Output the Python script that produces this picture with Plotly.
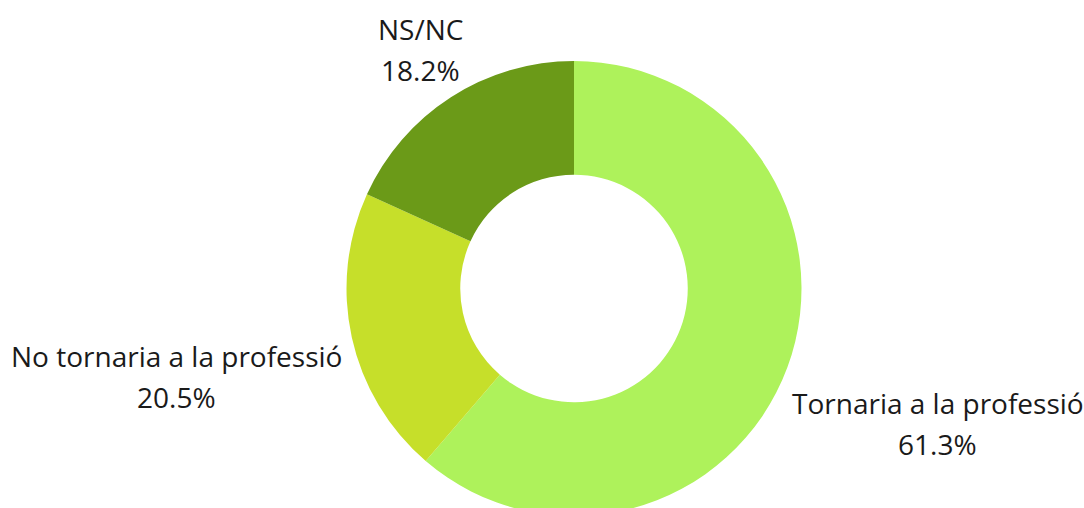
import math
import plotly.graph_objects as go

labels = ["Tornaria a la professió", "No tornaria a la professió", "NS/NC"]
values = [61.3, 20.5, 18.2]
colors = ["#AEF25B", "#C6DF2A", "#6B9A18"]

W, H = 1084, 516
ML, MR, MT, MB = 64, 0, 61, 0
FONT = "Open Sans"
FS = 28
LABEL_GAP = 14
LINE_GAP = 41

# approximate Open Sans advance widths (per 1000 em)
CW = {" ": 260, "a": 556, "b": 613, "c": 480, "d": 613, "e": 561, "f": 336, "i": 258,
      "l": 258, "n": 613, "o": 601, "p": 613, "r": 408, "s": 479, "t": 353, "ó": 601,
      "N": 748, "S": 549, "C": 631, "/": 371, ".": 266, "%": 823, "T": 556}


def text_w(s):
    return sum(CW.get(ch, 572) for ch in s) * FS / 1000.0


fig = go.Figure(go.Pie(
    labels=labels,
    values=values,
    hole=0.5,
    sort=False,
    direction="clockwise",
    rotation=0,
    marker=dict(colors=colors, line=dict(width=0)),
    textinfo="none",
    showlegend=False,
    hoverinfo="label+percent",
))

pw, ph = W - ML - MR, H - MT - MB
cx, cy = ML + pw / 2, MT + ph / 2
r = min(pw, ph) / 2
total = sum(values)

annotations = []
cum = 0.0
for lab, v in zip(labels, values):
    pct = f"{100 * v / total:.1f}%"
    theta = 2 * math.pi * (cum + v / 2) / total
    cum += v
    ux, uy = math.sin(theta), -math.cos(theta)
    w = max(text_w(lab), text_w(pct))
    R = r + LABEL_GAP + w / 2
    tx, ty = cx + R * ux, cy + R * uy
    for txt, dy in ((lab, -LINE_GAP / 2), (pct, LINE_GAP / 2)):
        annotations.append(dict(
            text=txt, showarrow=False, xref="paper", yref="paper",
            x=(tx - ML) / pw, y=1 - (ty + dy - MT) / ph,
            xanchor="center", yanchor="middle",
            font=dict(family=FONT, size=FS, color="#1a1a1a"),
        ))

fig.update_layout(
    width=W,
    height=H,
    margin=dict(l=ML, r=MR, t=MT, b=MB),
    paper_bgcolor="white",
    plot_bgcolor="white",
    annotations=annotations,
)

fig.write_html("out.html", post_script="document.body.style.overflow='hidden';document.body.style.margin='0';")
